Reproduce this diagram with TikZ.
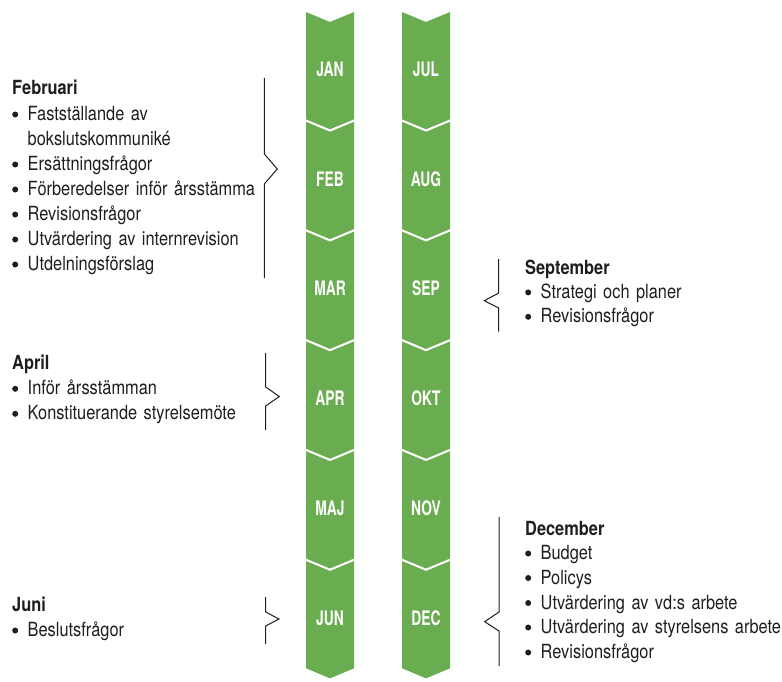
\documentclass[tikz,border=0pt]{standalone}
\usepackage{fontspec}
\setmainfont{TeX Gyre Heros}[FakeStretch=0.84]
\newfontfamily\manadfont{TeX Gyre Heros}[FakeStretch=0.69]
\usepackage{xcolor}
\usepackage{tikz}
\definecolor{gronmanad}{RGB}{106,172,80}
\definecolor{svarttext}{RGB}{30,30,30}
\newcommand\pk{\makebox[15.5pt][l]{\tikz[baseline=-6pt]\fill[svarttext] (3.5pt,0pt) circle (3pt);}}

\begin{document}
\begin{tikzpicture}[x=1pt, y=-1pt,
        manad/.style={font=\manadfont\bfseries\fontsize{20}{24}\selectfont, text=white},
        kalender/.style={font=\fontsize{19.5}{25}\selectfont, text=svarttext, anchor=base west,
            inner sep=0pt, text width=260pt, align=left},
        klammer/.style={draw=svarttext, line width=1pt}]
        \useasboundingbox (0,0) rectangle (782,681);
        % manaderna, tva kolumner
        \foreach \a/\b [count=\i from 0] in {JAN/JUL,FEB/AUG,MAR/SEP,APR/OKT,MAJ/NOV,JUN/DEC}{
          \pgfmathsetmacro\t{12+109.8*\i}
          \pgfmathsetmacro\u{\t+107.3}
          \fill[gronmanad] (306,\t) -- (330,\t+10) -- (354,\t) -- (354,\u) -- (330,\u+10) -- (306,\u) -- cycle;
          \fill[gronmanad] (402,\t) -- (426,\t+10) -- (450,\t) -- (450,\u) -- (426,\u+10) -- (402,\u) -- cycle;
          \node[manad] (\a) at (330,\t+57) {\a};
          \node[manad] (\b) at (426,\t+57) {\b};
        }
        % vanster sida
        \node[kalender] (februari) at (12,94) {\textbf{Februari}\\[1.5pt]
          \pk Fastställande av\\
          \hspace*{15.5pt}bokslutskommuniké\\
          \pk Ersättningsfrågor\\
          \pk Förberedelser inför årsstämma\\
          \pk Revisionsfrågor\\
          \pk Utvärdering av internrevision\\
          \pk Utdelningsförslag};
        \node[kalender] (april) at (12,369.3) {\textbf{April}\\[0.5pt]
          \pk Inför årsstämman\\
          \pk Konstituerande styrelsemöte};
        \node[kalender] (juni) at (12,611) {\textbf{Juni}\\[0.5pt]
          \pk Beslutsfrågor};
        % hoger sida
        \node[kalender] (september) at (525,274) {\textbf{September}\\[-0.6pt]
          \pk Strategi och planer\\[-0.6pt]
          \pk Revisionsfrågor};
        \node[kalender] (december) at (525,535) {\textbf{December}\\[-0.5pt]
          \pk Budget\\[-0.5pt]
          \pk Policys\\
          \pk Utvärdering av vd:s arbete\\[-0.5pt]
          \pk Utvärdering av styrelsens arbete\\
          \pk Revisionsfrågor};
        % klamrar
        \draw[klammer] (264.3,78) -- (264.3,154) -- (277.3,169) -- (264.3,184) -- (264.3,278);
        \draw[klammer] (265.7,353) -- (265.7,387) -- (279.3,396.5) -- (265.7,406) -- (265.7,430);
        \draw[klammer] (265.7,597) -- (265.7,612) -- (279,619) -- (265.7,626) -- (265.7,644);
        \draw[klammer] (498.7,259) -- (498.7,293) -- (484.3,300.7) -- (498.7,308) -- (498.7,331.7);
        \draw[klammer] (499,517) -- (499,612) -- (484.7,621.7) -- (499,631) -- (499,666);
\end{tikzpicture}
\end{document}
